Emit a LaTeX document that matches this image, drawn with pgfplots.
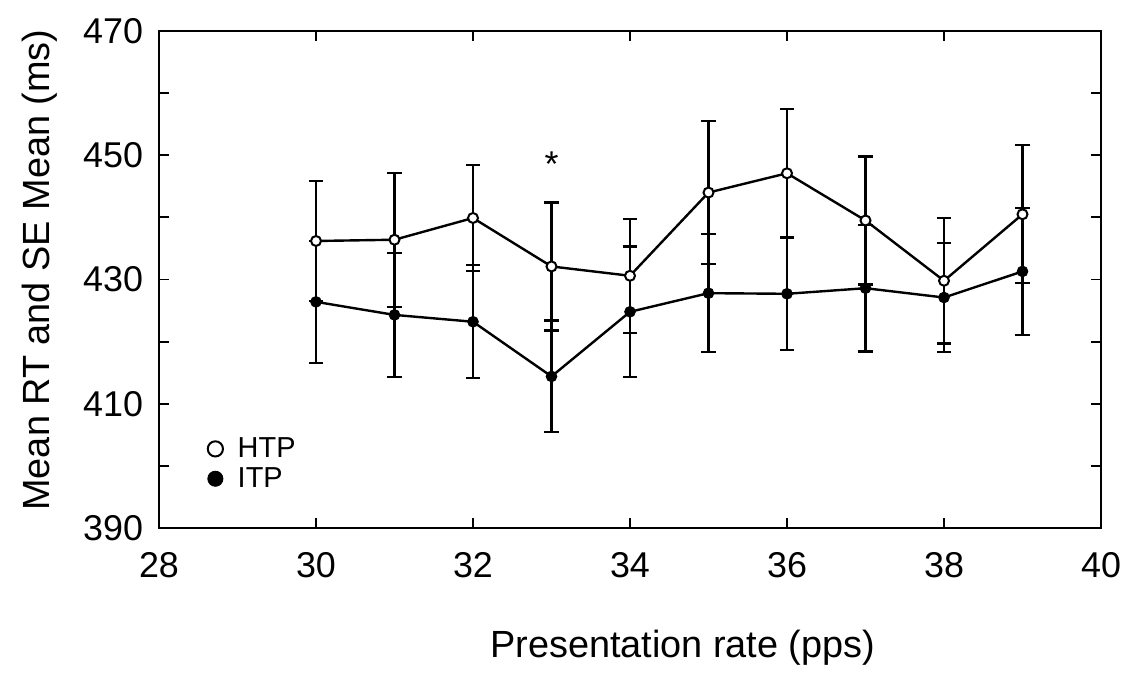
\documentclass[border=0pt]{standalone}
\usepackage{fontspec}
\setmainfont{Liberation Sans}
\usepackage{pgfplots}
\pgfplotsset{compat=1.18}
\usepackage{pgfplotstable}

\pgfplotstableread{
x y ey
30 436.2 9.7
31 436.4 10.8
32 439.9 8.5
33 432.1 10.3
34 430.6 9.2
35 444.0 11.5
36 447.1 10.4
37 439.5 10.3
38 429.8 10.1
39 440.5 11.1
}\htp

\pgfplotstableread{
x y ey
30 426.4 9.8
31 424.3 10.0
32 423.2 9.1
33 414.4 9.0
34 424.8 10.5
35 427.8 9.5
36 427.7 9.1
37 428.6 10.2
38 427.1 8.8
39 431.3 10.2
}\itp

\begin{document}
\begin{tikzpicture}
\path[use as bounding box] (0,0) rectangle (566bp,337.5bp);
\begin{axis}[
  at={(79.5bp,73.5bp)}, anchor=south west,
  scale only axis,
  width=471bp, height=248.5bp,
  xmin=28, xmax=40, ymin=390, ymax=470,
  xtick={28,30,...,40},
  ytick={390,410,...,470},
  minor ytick={400,420,...,460},
  tick align=inside,
  major tick length=5bp,
  minor tick length=5bp,
  axis line style={line width=0.9bp},
  every tick/.style={line width=0.9bp, black},
  /pgf/number format/assume math mode=true,
  tick label style={font=\fontsize{18}{18}\selectfont},
  xticklabel style={yshift=-8.5bp},
  yticklabel style={xshift=-4.5bp},
  label style={font=\fontsize{19}{19}\selectfont},
  xlabel={Presentation rate (pps)},
  ylabel={Mean RT and SE Mean (ms)},
  xlabel style={at={(axis description cs:0.556,-0.241)}, anchor=center},
  ylabel style={at={(axis description cs:-0.127,0.519)}, anchor=center, rotate=0},
  legend style={draw=none, fill=none, at={(axis description cs:0.045,0.199)}, anchor=north west,
    font=\fontsize{14.5}{14.5}\selectfont, row sep=-0.5bp},
  legend cell align=left,
  legend image code/.code={\draw[#1, mark size=3.8bp] plot coordinates {(0.15cm,0cm)}; \path (0.15cm+9bp,0cm);},
]
\addplot[black, line width=1.2bp, no markers, forget plot,
  error bars/.cd, y dir=both, y explicit,
  error bar style={line width=1.1bp, black},
  error mark options={rotate=90, mark size=3.6bp, line width=1.1bp, black}]
  table[x=x, y=y, y error=ey] {\htp};
\addplot[black, only marks, mark=*, mark size=2.5bp, mark options={fill=white, draw=black, line width=1bp}]
  table[x=x, y=y] {\htp};
\addlegendentry{HTP}
\addplot[black, line width=1.2bp, no markers, forget plot,
  error bars/.cd, y dir=both, y explicit,
  error bar style={line width=1.1bp, black},
  error mark options={rotate=90, mark size=3.6bp, line width=1.1bp, black}]
  table[x=x, y=y, y error=ey] {\itp};
\addplot[black, only marks, mark=*, mark size=2.7bp]
  table[x=x, y=y] {\itp};
\addlegendentry{ITP}
\node[font=\fontsize{18}{18}\selectfont, inner sep=0pt] at (axis cs:33,448.5) {*};
\end{axis}
\end{tikzpicture}
\end{document}
